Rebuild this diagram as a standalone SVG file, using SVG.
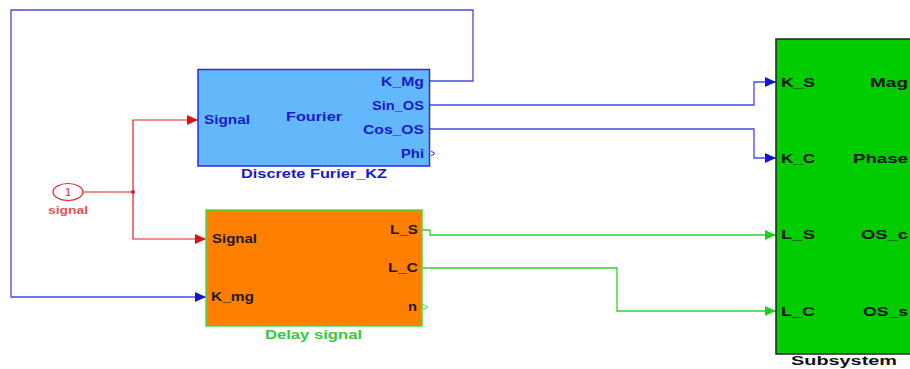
<svg xmlns="http://www.w3.org/2000/svg" width="910" height="369" viewBox="0 0 910 369">
<defs>
<marker id="ab" markerWidth="12" markerHeight="10" refX="11" refY="5" orient="auto" markerUnits="userSpaceOnUse"><path d="M0,0 L11,5 L0,10 Z" fill="#1515d0"/></marker>
<marker id="ar" markerWidth="12" markerHeight="10" refX="11" refY="5" orient="auto" markerUnits="userSpaceOnUse"><path d="M0,0 L11,5 L0,10 Z" fill="#e01010"/></marker>
<marker id="ag" markerWidth="12" markerHeight="10" refX="11" refY="5" orient="auto" markerUnits="userSpaceOnUse"><path d="M0,0 L11,5 L0,10 Z" fill="#22cc22"/></marker>
</defs>
<style>
text{font-family:"Liberation Sans",Arial,sans-serif;font-weight:bold;font-size:12px}
.bl{fill:#1a1ac8}
.dk{fill:#1a1a1a}
.sub{font-size:13px;fill:#111}
.wb{fill:none;stroke:#4848e0;stroke-width:1.3}
.wr{fill:none;stroke:#e02020;stroke-width:1.2}
.wg{fill:none;stroke:#33d033;stroke-width:1.3}
</style>
<rect width="910" height="369" fill="#fff"/>
<g id="connectors">
<path class="wb" d="M430,81 H473 V10 H11 V297 H206" marker-end="url(#ab)"/>
<path class="wb" d="M430,105 H754 V82 H776" marker-end="url(#ab)"/>
<path class="wb" d="M430,129 H754 V158 H776" marker-end="url(#ab)"/>
<path class="wr" d="M83,192 H133"/>
<path class="wr" d="M133,192 V120 H198" marker-end="url(#ar)"/>
<path class="wr" d="M133,192 V239 H206" marker-end="url(#ar)"/>
<circle cx="133" cy="192" r="2" fill="#e02020"/>
<path class="wg" d="M422,230 H430 V235 H776" marker-end="url(#ag)"/>
<path class="wg" d="M422,268 H617 V311 H776" marker-end="url(#ag)"/>
</g>
<g id="inport">
<ellipse cx="68" cy="192" rx="15" ry="8.5" fill="#fff" stroke="#e02020" stroke-width="1.2"/>
<text x="68" y="196" text-anchor="middle" style="font-weight:normal;font-size:11px;fill:#e02020">1</text>
<text x="68" y="214" text-anchor="middle" textLength="40" lengthAdjust="spacingAndGlyphs" style="font-size:10px;fill:#ee5050">signal</text>
</g>
<g id="fourier">
<rect x="198" y="69.5" width="231.5" height="96.5" fill="#63b8fc" stroke="#2a2ae8" stroke-width="1.5"/>
<text class="bl" x="204" y="124" textLength="46" lengthAdjust="spacingAndGlyphs">Signal</text>
<text class="bl" x="286" y="121" textLength="56" lengthAdjust="spacingAndGlyphs">Fourier</text>
<text class="bl" x="381" y="86" textLength="43" lengthAdjust="spacingAndGlyphs">K_Mg</text>
<text class="bl" x="372" y="110" textLength="52" lengthAdjust="spacingAndGlyphs">Sin_OS</text>
<text class="bl" x="363" y="134" textLength="61" lengthAdjust="spacingAndGlyphs">Cos_OS</text>
<text class="bl" x="401" y="158" textLength="23" lengthAdjust="spacingAndGlyphs">Phi</text>
<path d="M431,151 L435,153.5 L431,156" fill="none" stroke="#2a2ae8" stroke-width="1"/>
<text class="bl" x="241" y="178" textLength="146" lengthAdjust="spacingAndGlyphs">Discrete Furier_KZ</text>
</g>
<g id="delay">
<rect x="206" y="210" width="216" height="116" fill="#ff8000" stroke="#44dd44" stroke-width="1.5"/>
<text class="dk" x="212" y="243" textLength="45" lengthAdjust="spacingAndGlyphs">Signal</text>
<text class="dk" x="211" y="301" textLength="43" lengthAdjust="spacingAndGlyphs">K_mg</text>
<text class="dk" x="390" y="234" textLength="28" lengthAdjust="spacingAndGlyphs">L_S</text>
<text class="dk" x="388" y="272" textLength="30" lengthAdjust="spacingAndGlyphs">L_C</text>
<text class="dk" x="408" y="311" textLength="9" lengthAdjust="spacingAndGlyphs">n</text>
<path d="M423,304.5 L428,307 L423,309.5" fill="none" stroke="#44dd44" stroke-width="1"/>
<text x="265" y="339" textLength="97" lengthAdjust="spacingAndGlyphs" style="fill:#33cc33">Delay signal</text>
</g>
<g id="subsystem">
<rect x="776" y="39" width="150" height="315" fill="#00cc00" stroke="#222" stroke-width="1.5"/>
<text class="sub" x="781" y="87" textLength="34" lengthAdjust="spacingAndGlyphs">K_S</text>
<text class="sub" x="781" y="163" textLength="34" lengthAdjust="spacingAndGlyphs">K_C</text>
<text class="sub" x="781" y="239" textLength="34" lengthAdjust="spacingAndGlyphs">L_S</text>
<text class="sub" x="781" y="316" textLength="34" lengthAdjust="spacingAndGlyphs">L_C</text>
<text class="sub" x="870" y="87" textLength="38" lengthAdjust="spacingAndGlyphs">Mag</text>
<text class="sub" x="853" y="163" textLength="55" lengthAdjust="spacingAndGlyphs">Phase</text>
<text class="sub" x="861" y="239" textLength="47" lengthAdjust="spacingAndGlyphs">OS_c</text>
<text class="sub" x="863" y="316" textLength="45" lengthAdjust="spacingAndGlyphs">OS_s</text>
<text x="791" y="365" textLength="106" lengthAdjust="spacingAndGlyphs" style="font-size:12px;fill:#111">Subsystem</text>
</g>
</svg>
